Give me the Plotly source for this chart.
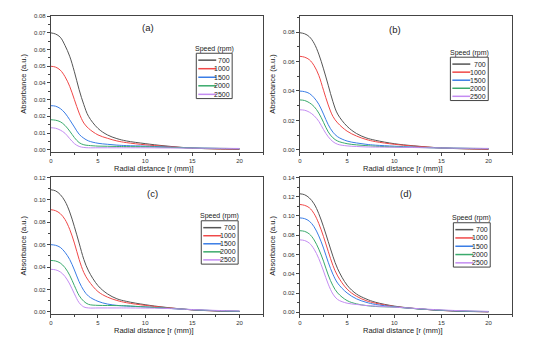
import plotly.graph_objects as go

# Radial positions (mm) shared by every profile
radius_mm = [0, 0.5, 1, 1.5, 2, 2.5, 3, 3.5, 4, 5, 6, 7, 8, 10, 12, 15, 17.5, 20]

speeds_rpm = ["700", "1000", "1500", "2000", "2500"]
speed_colors = ["#555555", "#f04848", "#3a7de6", "#3aaa6c", "#c48cf2"]

# Absorbance profiles, one list per rotation speed, for each panel
panel_a = [
    [0.0700, 0.0693, 0.0674, 0.0625, 0.0560, 0.0467, 0.0360, 0.0270, 0.0200, 0.0128, 0.0089, 0.0067, 0.0053, 0.0037, 0.0024, 0.0010, 0.0005, 0.0003],
    [0.0500, 0.0495, 0.0477, 0.0438, 0.0380, 0.0300, 0.0220, 0.0160, 0.0128, 0.0089, 0.0069, 0.0053, 0.0043, 0.0030, 0.0021, 0.0010, 0.0006, 0.0004],
    [0.0264, 0.0261, 0.0247, 0.0220, 0.0180, 0.0136, 0.0093, 0.0069, 0.0053, 0.0039, 0.0033, 0.0028, 0.0025, 0.0022, 0.0017, 0.0011, 0.0008, 0.0006],
    [0.0180, 0.0177, 0.0168, 0.0146, 0.0112, 0.0073, 0.0043, 0.0030, 0.0026, 0.0022, 0.0021, 0.0020, 0.0019, 0.0018, 0.0015, 0.0011, 0.0009, 0.0007],
    [0.0132, 0.0129, 0.0118, 0.0099, 0.0067, 0.0037, 0.0020, 0.0014, 0.0012, 0.0012, 0.0012, 0.0012, 0.0012, 0.0012, 0.0011, 0.0010, 0.0009, 0.0008],
]
panel_b = [
    [0.0795, 0.0788, 0.0768, 0.0724, 0.0650, 0.0550, 0.0439, 0.0327, 0.0243, 0.0160, 0.0111, 0.0082, 0.0065, 0.0042, 0.0028, 0.0013, 0.0007, 0.0004],
    [0.0635, 0.0629, 0.0612, 0.0572, 0.0506, 0.0405, 0.0305, 0.0227, 0.0183, 0.0127, 0.0094, 0.0071, 0.0056, 0.0038, 0.0026, 0.0013, 0.0008, 0.0005],
    [0.0399, 0.0395, 0.0383, 0.0354, 0.0310, 0.0243, 0.0171, 0.0120, 0.0089, 0.0060, 0.0047, 0.0038, 0.0032, 0.0025, 0.0019, 0.0013, 0.0010, 0.0008],
    [0.0339, 0.0335, 0.0320, 0.0294, 0.0250, 0.0187, 0.0122, 0.0082, 0.0060, 0.0042, 0.0034, 0.0029, 0.0025, 0.0020, 0.0017, 0.0013, 0.0011, 0.0009],
    [0.0272, 0.0269, 0.0256, 0.0232, 0.0194, 0.0138, 0.0089, 0.0056, 0.0038, 0.0027, 0.0023, 0.0020, 0.0019, 0.0018, 0.0016, 0.0013, 0.0011, 0.0010],
]
panel_c = [
    [0.1090, 0.1080, 0.1047, 0.0988, 0.0892, 0.0760, 0.0614, 0.0468, 0.0365, 0.0234, 0.0161, 0.0117, 0.0094, 0.0064, 0.0042, 0.0018, 0.0008, 0.0003],
    [0.0912, 0.0903, 0.0877, 0.0825, 0.0737, 0.0614, 0.0468, 0.0351, 0.0278, 0.0181, 0.0132, 0.0102, 0.0082, 0.0058, 0.0040, 0.0018, 0.0009, 0.0004],
    [0.0600, 0.0594, 0.0576, 0.0532, 0.0468, 0.0374, 0.0269, 0.0190, 0.0140, 0.0094, 0.0070, 0.0058, 0.0052, 0.0044, 0.0034, 0.0019, 0.0010, 0.0005],
    [0.0459, 0.0454, 0.0436, 0.0395, 0.0327, 0.0234, 0.0146, 0.0094, 0.0067, 0.0058, 0.0057, 0.0056, 0.0054, 0.0044, 0.0034, 0.0020, 0.0011, 0.0006],
    [0.0380, 0.0375, 0.0357, 0.0316, 0.0249, 0.0161, 0.0082, 0.0044, 0.0035, 0.0035, 0.0035, 0.0035, 0.0035, 0.0034, 0.0031, 0.0021, 0.0013, 0.0008],
]
panel_d = [
    [0.1230, 0.1220, 0.1187, 0.1126, 0.1024, 0.0888, 0.0735, 0.0582, 0.0452, 0.0282, 0.0190, 0.0140, 0.0105, 0.0065, 0.0042, 0.0020, 0.0010, 0.0005],
    [0.1119, 0.1110, 0.1085, 0.1024, 0.0922, 0.0786, 0.0633, 0.0486, 0.0378, 0.0241, 0.0167, 0.0122, 0.0095, 0.0061, 0.0041, 0.0020, 0.0011, 0.0006],
    [0.0980, 0.0972, 0.0946, 0.0888, 0.0793, 0.0667, 0.0520, 0.0395, 0.0303, 0.0201, 0.0140, 0.0105, 0.0082, 0.0058, 0.0040, 0.0021, 0.0012, 0.0007],
    [0.0847, 0.0840, 0.0813, 0.0752, 0.0656, 0.0531, 0.0388, 0.0276, 0.0201, 0.0122, 0.0088, 0.0071, 0.0061, 0.0054, 0.0040, 0.0022, 0.0013, 0.0008],
    [0.0752, 0.0745, 0.0718, 0.0656, 0.0558, 0.0429, 0.0293, 0.0190, 0.0133, 0.0095, 0.0082, 0.0071, 0.0065, 0.0054, 0.0042, 0.0025, 0.0016, 0.0010],
]

panel_labels = ["(a)", "(b)", "(c)", "(d)"]
y_ranges = [[-0.0012, 0.0802], [-0.0013, 0.091], [-0.0018, 0.12], [-0.0016, 0.14]]
y_steps = [0.01, 0.02, 0.02, 0.02]

W, H = 554, 342
FONT = "Liberation Sans, Arial, sans-serif"


def px_x(v):
    return v / W


def px_y(v):
    return 1 - v / H


# Plot-area boxes in pixels: (left, top, right, bottom)
boxes = [(49, 13, 262, 151), (299, 13, 512, 151), (49, 177, 262, 315.5), (299, 177, 512, 315.5)]
# Legend boxes in pixels: (left, top, right, bottom)
legend_boxes = [(195, 51, 231, 97), (450, 55, 488, 99), (200, 221, 237, 265), (453, 223, 490, 268)]
label_pos = [(147, 25), (394, 27), (151, 193), (405, 193)]

fig = go.Figure()
layout = dict(
    width=W, height=H, margin=dict(l=0, r=0, t=0, b=0),
    paper_bgcolor="white", plot_bgcolor="white", showlegend=False,
    font=dict(family=FONT, color="#333333"),
)
shapes, annotations = [], []


def note(text, x, y, size, xanchor="center", angle=0):
    annotations.append(dict(
        text=text, xref="paper", yref="paper", x=px_x(x), y=px_y(y),
        xanchor=xanchor, yanchor="middle", showarrow=False, textangle=angle,
        borderpad=0, font=dict(size=size, family=FONT, color="#222222"),
    ))


for i, data in enumerate([panel_a, panel_b, panel_c, panel_d]):
    n = "" if i == 0 else str(i + 1)
    l, t, r, b = boxes[i]
    for s, (speed, color) in enumerate(zip(speeds_rpm, speed_colors)):
        fig.add_trace(go.Scatter(
            x=radius_mm, y=data[s], mode="lines", name=speed,
            line=dict(color=color, width=1, shape="spline", smoothing=1.0),
            xaxis="x" + n, yaxis="y" + n,
        ))
    axis_common = dict(
        showline=True, linecolor="#444444", linewidth=1, mirror=True,
        showgrid=False, zeroline=False, ticks="outside", ticklen=3,
        tickwidth=1, tickcolor="#444444",
        tickfont=dict(size=6, family=FONT, color="#333333"),
    )
    layout["xaxis" + n] = dict(
        axis_common, domain=[px_x(l), px_x(r)], range=[0, 22.5],
        anchor="y" + n, tick0=0, dtick=5,
        minor=dict(ticks="outside", ticklen=2, dtick=2.5, tickcolor="#444444"),
    )
    layout["yaxis" + n] = dict(
        axis_common, domain=[px_y(b), px_y(t)], range=y_ranges[i],
        anchor="x" + n, tick0=0, dtick=y_steps[i], tickformat=".2f",
        minor=dict(ticks="outside", ticklen=2, dtick=y_steps[i] / 2, tickcolor="#444444"),
    )
    # Axis titles
    note("Radial distance [r (mm)]", (l + r) / 2 - 3, b + 16.5, 7.5)
    note("Absorbance (a.u.)", l - 27, (t + b) / 2, 7.5, angle=-90)
    # Panel label
    lx, ly = label_pos[i]
    note(panel_labels[i], lx, ly, 9.5)
    # Legend: title, frame, line samples and speed labels
    gl, gt, gr, gb = legend_boxes[i]
    note("Speed (rpm)", (gl + gr) / 2, gt - 4.5, 7)
    shapes.append(dict(
        type="rect", xref="paper", yref="paper",
        x0=px_x(gl), x1=px_x(gr), y0=px_y(gb), y1=px_y(gt),
        line=dict(color="#444444", width=1), fillcolor="rgba(0,0,0,0)",
    ))
    step = (gb - gt - 11.3) / 4
    for s, (speed, color) in enumerate(zip(speeds_rpm, speed_colors)):
        yy = gt + 7 + s * step
        shapes.append(dict(
            type="line", xref="paper", yref="paper",
            x0=px_x(gl + 2), x1=px_x(gl + 20), y0=px_y(yy), y1=px_y(yy),
            line=dict(color=color, width=1.5),
        ))
        note(speed, gr - 1, yy, 7, xanchor="right")

layout["shapes"] = shapes
layout["annotations"] = annotations
fig.update_layout(**layout)
fig.write_html("out.html")
